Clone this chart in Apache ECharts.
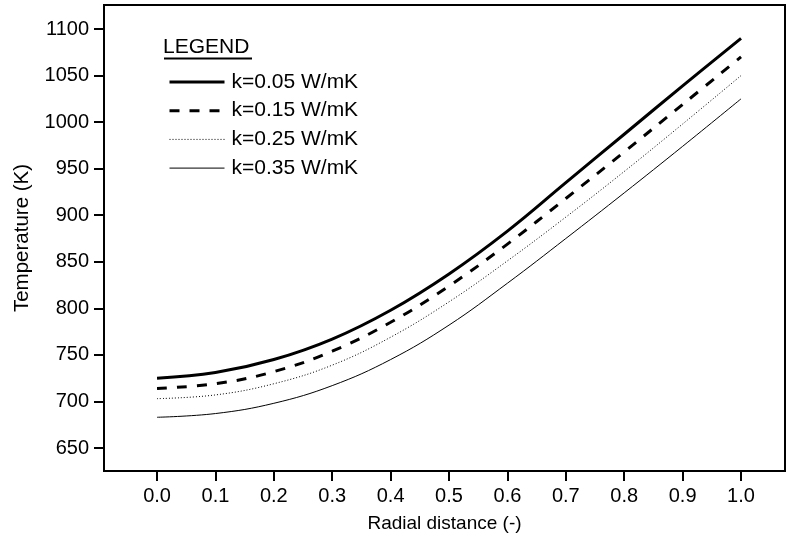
<!DOCTYPE html>
<html>
<head>
<meta charset="utf-8">
<script src="https://cdn.jsdelivr.net/npm/echarts@6/dist/echarts.min.js"></script>
<style>html,body{margin:0;padding:0;background:#fff}#c{width:787px;height:545px}</style>
</head>
<body>
<div id="c"></div>
<script>
var radial = [0.0, 0.1, 0.2, 0.3, 0.4, 0.5, 0.6, 0.7, 0.8, 0.9, 1.0];
var k005 = [725, 731, 745, 767, 798, 837, 883, 935, 987, 1039, 1090];
var k015 = [714, 719, 732, 754, 785, 824, 869, 918, 968, 1019, 1070];
var k025 = [703, 707, 719, 739, 769, 807, 851, 898, 947, 998, 1050];
var k035 = [683, 687, 698, 717, 745, 782, 827, 875, 924, 974, 1025];
var seriesNames = ['k=0.05 W/mK', 'k=0.15 W/mK', 'k=0.25 W/mK', 'k=0.35 W/mK'];
var xTicks = [0.0, 0.1, 0.2, 0.3, 0.4, 0.5, 0.6, 0.7, 0.8, 0.9, 1.0];
var yTicks = [650, 700, 750, 800, 850, 900, 950, 1000, 1050, 1100];

function pairs(ys) { return radial.map(function (x, i) { return [x, ys[i]]; }); }

var FONT = '"Liberation Sans", Arial, Helvetica, sans-serif';
var chart = echarts.init(document.getElementById('c'));
var styles = [
  {width: 3, type: 'solid'},
  {width: 3, type: [10, 10]},
  {width: 1, type: [1, 2]},
  {width: 1, type: 'solid'}
];
var dataSets = [k005, k015, k025, k035];
chart.setOption({
  animation: false,
  backgroundColor: '#fff',
  textStyle: {fontFamily: FONT},
  grid: {left: 104, top: 5, right: 2, bottom: 74, show: true, borderColor: '#000', borderWidth: 2, containLabel: false},
  xAxis: {
    type: 'value', min: -0.0908, max: 1.0753,
    name: 'Radial distance (-)', nameLocation: 'middle', nameGap: 43,
    nameTextStyle: {color: '#000', fontSize: 19, fontFamily: FONT},
    axisLine: {show: true, onZero: false, lineStyle: {color: '#000', width: 2}},
    axisTick: {show: true, inside: false, length: 10, lineStyle: {color: '#000', width: 2}, customValues: xTicks},
    axisLabel: {color: '#000', fontSize: 20, margin: 15, fontFamily: FONT, customValues: xTicks,
      formatter: function (v) { return v.toFixed(1); }},
    splitLine: {show: false}
  },
  yAxis: {
    type: 'value', min: 625.3, max: 1125.8,
    name: 'Temperature (K)', nameLocation: 'middle', nameGap: 71,
    nameTextStyle: {color: '#000', fontSize: 20.5, fontFamily: FONT},
    axisLine: {show: true, onZero: false, lineStyle: {color: '#000', width: 2}},
    axisTick: {show: true, inside: false, length: 10, lineStyle: {color: '#000', width: 2}, customValues: yTicks},
    axisLabel: {color: '#000', fontSize: 20, margin: 15, fontFamily: FONT, customValues: yTicks,
      formatter: function (v) { return String(Math.round(v)); }},
    splitLine: {show: false}
  },
  legend: {
    orient: 'vertical', left: 163, top: 66.5,
    itemWidth: 55, itemHeight: 14, itemGap: 7.7,
    itemStyle: {opacity: 0},
    textStyle: {color: '#000', fontSize: 21, fontFamily: FONT, lineHeight: 21, padding: [0, 0, 0, 2]},
    data: seriesNames.map(function (n, i) {
      return {name: n, lineStyle: {color: '#000', width: styles[i].width, type: styles[i].type}};
    })
  },
  graphic: [
    {type: 'text', left: 163, top: 37, style: {text: 'LEGEND', fill: '#000', fontSize: 21, fontFamily: FONT}},
    {type: 'line', shape: {x1: 164, y1: 58.5, x2: 252, y2: 58.5}, style: {stroke: '#000', lineWidth: 2}}
  ],
  series: dataSets.map(function (d, i) {
    return {
      name: seriesNames[i], type: 'line', data: pairs(d), smooth: 0.4,
      showSymbol: false, symbol: 'none',
      lineStyle: {color: '#000', width: styles[i].width, type: styles[i].type},
      itemStyle: {color: '#000'}
    };
  })
});
</script>
</body>
</html>
